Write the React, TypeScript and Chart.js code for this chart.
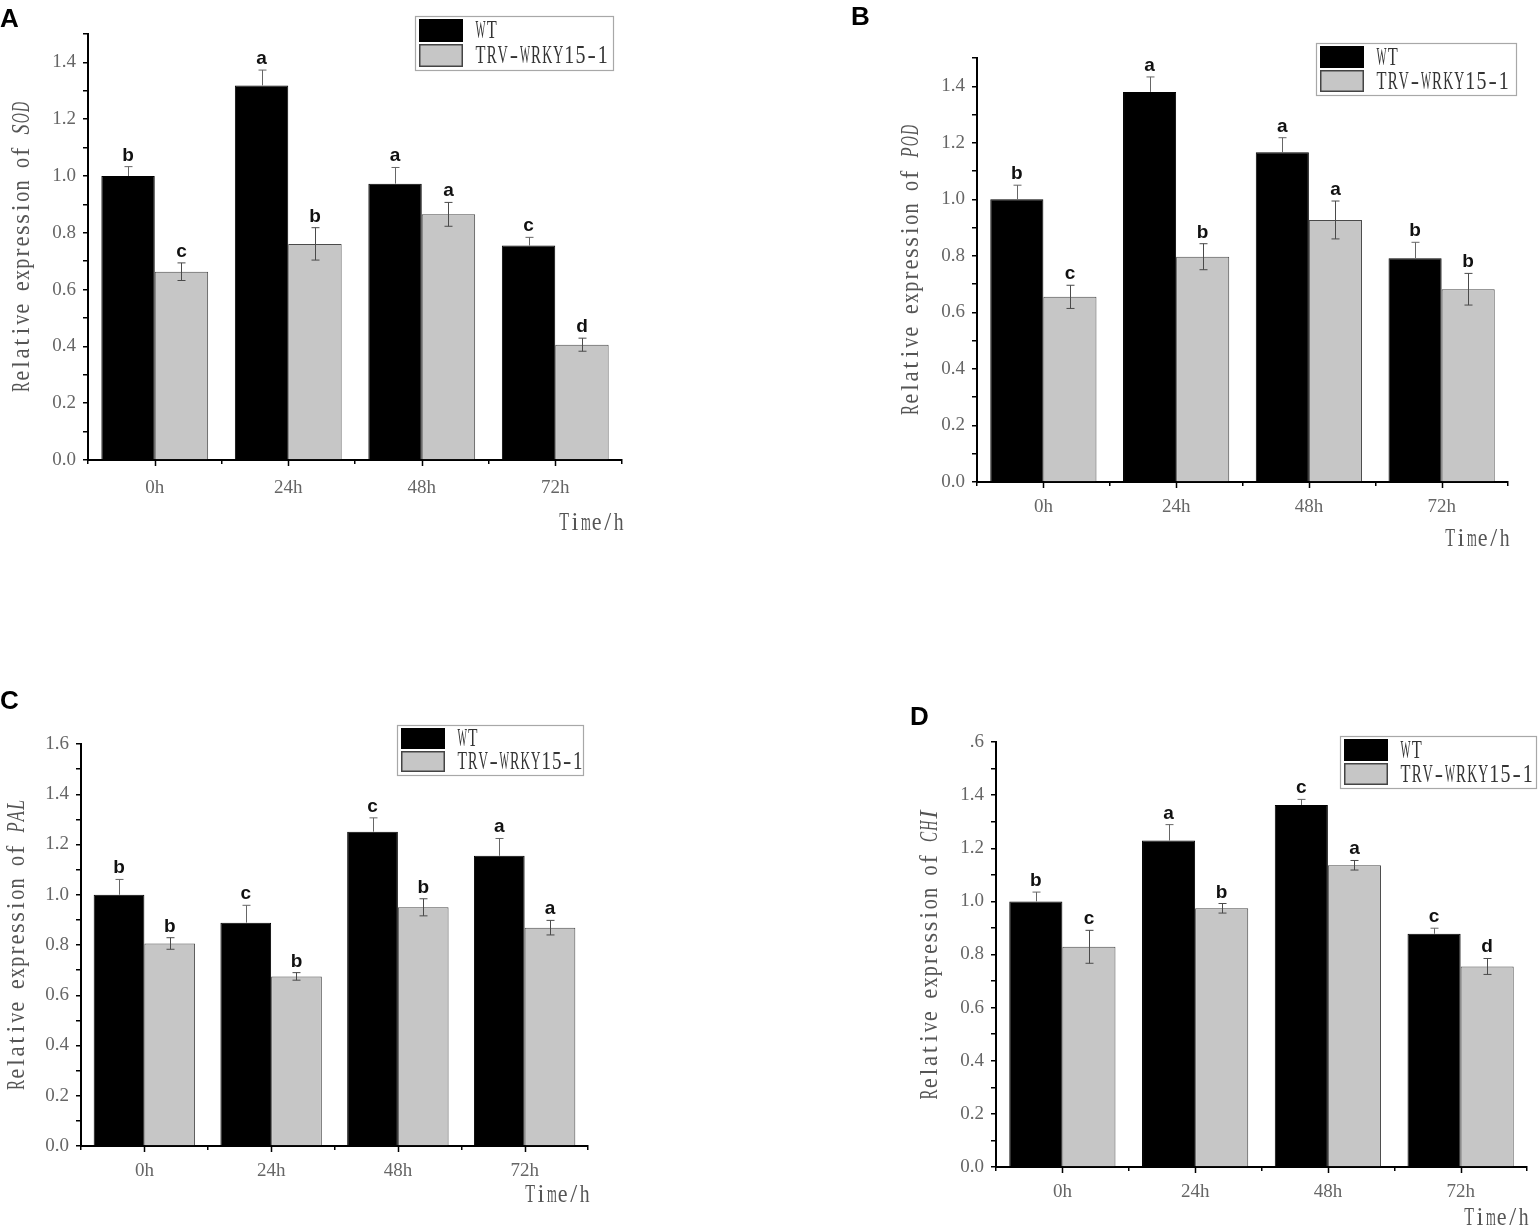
import React, { useEffect, useRef } from 'react';
import { Chart, registerables } from 'chart.js';

Chart.register(...registerables);

// ---------- data ----------
const categories = ['0h', '24h', '48h', '72h'];
const seriesNames = ['WT', 'TRV-WRKY15-1'];

// A: SOD
const sodWT = [1.0, 1.319, 0.973, 0.755];
const sodWTErr = [0.033, 0.054, 0.057, 0.029];
const sodTRV = [0.663, 0.761, 0.865, 0.406];
const sodTRVErr = [0.031, 0.057, 0.042, 0.023];
const sodWTLetters = ['b', 'a', 'a', 'c'];
const sodTRVLetters = ['c', 'b', 'a', 'd'];

// B: POD
const podWT = [1.0, 1.38, 1.167, 0.792];
const podWTErr = [0.05, 0.053, 0.051, 0.056];
const podTRV = [0.655, 0.797, 0.927, 0.682];
const podTRVErr = [0.041, 0.046, 0.067, 0.056];
const podWTLetters = ['b', 'a', 'a', 'b'];
const podTRVLetters = ['c', 'b', 'a', 'b'];

// C: PAL
const palWT = [1.0, 0.889, 1.251, 1.155];
const palWTErr = [0.061, 0.069, 0.055, 0.069];
const palTRV = [0.806, 0.675, 0.95, 0.869];
const palTRVErr = [0.023, 0.015, 0.034, 0.029];
const palWTLetters = ['b', 'c', 'c', 'a'];
const palTRVLetters = ['b', 'b', 'b', 'a'];

// D: CHI
const chiWT = [1.0, 1.229, 1.363, 0.878];
const chiWTErr = [0.035, 0.06, 0.021, 0.021];
const chiTRV = [0.829, 0.974, 1.136, 0.755];
const chiTRVErr = [0.062, 0.018, 0.018, 0.03];
const chiWTLetters = ['b', 'a', 'c', 'c'];
const chiTRVLetters = ['c', 'b', 'a', 'd'];

const yTitlePrefix = 'Relative expression of ';
const xTitle = 'Time/h';

// ---------- layout ----------
const PANEL_W = 770;
const PANEL_H = 615;
const Y_AXIS_W = 60;
const X_AXIS_H = 45;
const SERIF = '"Liberation Serif", "DejaVu Serif", serif';
const SANS = '"Liberation Sans", Arial, sans-serif';
const GRAY_FILL = '#c6c6c6';
const MONO_SIZE = 25;

type PanelCfg = {
  letter: string;
  gene: string;
  wt: number[];
  wtErr: number[];
  trv: number[];
  trvErr: number[];
  wtLetters: string[];
  trvLetters: string[];
  yMax: number;
  topLabel?: string;
  ox: number;
  oy: number;
  area: { l: number; r: number; t: number; b: number };
  titleX: number;
  legend: { x: number; y: number; w: number; h: number; adv: number };
  letterPos: { x: number; y: number };
  xTitleDy: number;
  xTickDy: number;
};

const panels: PanelCfg[] = [
  {
    letter: 'A', gene: 'SOD', wt: sodWT, wtErr: sodWTErr, trv: sodTRV, trvErr: sodTRVErr,
    wtLetters: sodWTLetters, trvLetters: sodTRVLetters, yMax: 1.5,
    ox: 0, oy: 0, area: { l: 88, r: 622, t: 34, b: 460 }, titleX: 22,
    legend: { x: 415, y: 16, w: 198, h: 54, adv: 11.1 }, letterPos: { x: 0, y: 7 },
    xTitleDy: 63, xTickDy: 27,
  },
  {
    letter: 'B', gene: 'POD', wt: podWT, wtErr: podWTErr, trv: podTRV, trvErr: podTRVErr,
    wtLetters: podWTLetters, trvLetters: podTRVLetters, yMax: 1.5,
    ox: 769, oy: 0, area: { l: 977, r: 1508, t: 58, b: 482 }, titleX: 911,
    legend: { x: 1316, y: 43, w: 200, h: 52, adv: 11.1 }, letterPos: { x: 851, y: 5 },
    xTitleDy: 57, xTickDy: 24,
  },
  {
    letter: 'C', gene: 'PAL', wt: palWT, wtErr: palWTErr, trv: palTRV, trvErr: palTRVErr,
    wtLetters: palWTLetters, trvLetters: palTRVLetters, yMax: 1.6,
    ox: 0, oy: 615, area: { l: 81, r: 588, t: 744, b: 1146 }, titleX: 17,
    legend: { x: 397, y: 725, w: 186, h: 50, adv: 10.5 }, letterPos: { x: 0, y: 689 },
    xTitleDy: 49, xTickDy: 24,
  },
  {
    letter: 'D', gene: 'CHI', wt: chiWT, wtErr: chiWTErr, trv: chiTRV, trvErr: chiTRVErr,
    wtLetters: chiWTLetters, trvLetters: chiTRVLetters, yMax: 1.6, topLabel: '.6',
    ox: 769, oy: 615, area: { l: 996, r: 1527, t: 742, b: 1167 }, titleX: 930,
    legend: { x: 1340, y: 736, w: 196, h: 52, adv: 11.1 }, letterPos: { x: 910, y: 705 },
    xTitleDy: 51, xTickDy: 24,
  },
];

type Part = { t: string; italic?: boolean };

// draws text with a fixed advance per character (half-width CJK-font look);
// glyphs wider than their cell are squeezed horizontally
function monoText(
  ctx: CanvasRenderingContext2D,
  parts: Part[],
  x: number,
  y: number,
  size: number,
  adv: number,
  align: 'left' | 'right' | 'center',
  color: string
) {
  const n = parts.reduce((s, p) => s + p.t.length, 0);
  const total = n * adv;
  let sx = x;
  if (align === 'right') sx = x - total;
  else if (align === 'center') sx = x - total / 2;
  ctx.save();
  ctx.fillStyle = color;
  ctx.textAlign = 'center';
  ctx.textBaseline = 'middle';
  let k = 0;
  const maxW = adv * 0.9;
  for (const p of parts) {
    ctx.font = `${p.italic ? 'italic ' : ''}${size}px ${SERIF}`;
    for (const ch of p.t) {
      if (ch !== ' ') {
        const cx = sx + (k + 0.5) * adv;
        const w = ctx.measureText(ch).width;
        if (w > maxW) {
          ctx.save();
          ctx.translate(cx, y);
          ctx.scale(maxW / w, 1);
          ctx.fillText(ch, 0, 0);
          ctx.restore();
        } else {
          ctx.fillText(ch, cx, y);
        }
      }
      k++;
    }
  }
  ctx.restore();
}

function ChartPanel({ p }: { p: PanelCfg }) {
  const ref = useRef<HTMLCanvasElement>(null);

  useEffect(() => {
    const canvas = ref.current;
    if (!canvas) return;
    const pad = {
      left: p.area.l - p.ox - Y_AXIS_W,
      right: p.ox + PANEL_W - p.area.r,
      top: p.area.t - p.oy,
      bottom: p.oy + PANEL_H - p.area.b - X_AXIS_H,
    };
    const errs = [p.wtErr, p.trvErr];
    const lets = [p.wtLetters, p.trvLetters];

    const decor = {
      id: 'decor',
      afterDatasetsDraw(chart: any) {
        const ctx: CanvasRenderingContext2D = chart.ctx;
        const ys = chart.scales.y;
        ctx.save();
        for (let d = 0; d < 2; d++) {
          const meta = chart.getDatasetMeta(d);
          const vals = chart.data.datasets[d].data as number[];
          meta.data.forEach((bar: any, i: number) => {
            const x = Math.round(bar.x) + 0.5;
            const top = ys.getPixelForValue(vals[i] + errs[d][i]);
            const mid = ys.getPixelForValue(vals[i]);
            const bot = ys.getPixelForValue(vals[i] - errs[d][i]);
            ctx.lineWidth = 1;
            ctx.beginPath();
            if (d === 0) {
              // the part inside the black bar is invisible
              ctx.strokeStyle = '#666';
              ctx.moveTo(x, top);
              ctx.lineTo(x, mid);
              ctx.moveTo(x - 4, top);
              ctx.lineTo(x + 4, top);
            } else {
              ctx.strokeStyle = '#4a4a4a';
              ctx.moveTo(x, top);
              ctx.lineTo(x, bot);
              ctx.moveTo(x - 4, top);
              ctx.lineTo(x + 4, top);
              ctx.moveTo(x - 4, bot);
              ctx.lineTo(x + 4, bot);
            }
            ctx.stroke();
            ctx.fillStyle = '#111';
            ctx.font = `bold 19px ${SANS}`;
            ctx.textAlign = 'center';
            ctx.textBaseline = 'alphabetic';
            ctx.fillText(lets[d][i], bar.x, top - 6);
          });
        }
        ctx.restore();
      },
      afterDraw(chart: any) {
        const ctx: CanvasRenderingContext2D = chart.ctx;
        const xs = chart.scales.x;
        const ca = chart.chartArea;
        ctx.save();
        // ticks at category centres
        ctx.strokeStyle = '#000';
        ctx.lineWidth = 1.5;
        ctx.beginPath();
        categories.forEach((_, i) => {
          const x = Math.round(xs.getPixelForValue(i)) + 0.5;
          ctx.moveTo(x, ca.bottom);
          ctx.lineTo(x, ca.bottom + 6);
        });
        ctx.stroke();

        // y title
        ctx.save();
        ctx.translate(p.titleX - p.ox, (ca.top + ca.bottom) / 2);
        ctx.rotate(-Math.PI / 2);
        monoText(ctx, [{ t: yTitlePrefix }, { t: p.gene, italic: true }], 0, 0, MONO_SIZE, 11.2, 'center', '#555');
        ctx.restore();

        // x title
        monoText(ctx, [{ t: xTitle }], ca.right + 2, ca.bottom + p.xTitleDy, MONO_SIZE, 10.9, 'right', '#555');

        // legend
        const lx = p.legend.x - p.ox;
        const ly = p.legend.y - p.oy;
        const lw = p.legend.w;
        const lh = p.legend.h;
        ctx.strokeStyle = '#a8a8a8';
        ctx.lineWidth = 1.2;
        ctx.strokeRect(lx + 0.5, ly + 0.5, lw, lh);
        const half = (lh - 8) / 2;
        ctx.fillStyle = '#000';
        ctx.fillRect(lx + 4, ly + 3, 44, half);
        ctx.fillStyle = GRAY_FILL;
        ctx.fillRect(lx + 4, ly + 5 + half, 44, half);
        ctx.strokeStyle = '#444';
        ctx.lineWidth = 1.5;
        ctx.strokeRect(lx + 4.75, ly + 5.75 + half, 42.5, half - 1.5);
        monoText(ctx, [{ t: seriesNames[0] }], lx + 60, ly + 4 + half / 2, MONO_SIZE, p.legend.adv, 'left', '#333');
        monoText(ctx, [{ t: seriesNames[1] }], lx + 60, ly + 6 + half * 1.5, MONO_SIZE, p.legend.adv, 'left', '#333');

        // panel letter
        ctx.fillStyle = '#000';
        ctx.font = `bold 26px ${SANS}`;
        ctx.textAlign = 'left';
        ctx.textBaseline = 'top';
        ctx.fillText(p.letter, p.letterPos.x - p.ox, p.letterPos.y - p.oy);
        ctx.restore();
      },
    };

    const chart = new Chart(canvas, {
      type: 'bar',
      data: {
        labels: categories,
        datasets: [
          {
            label: seriesNames[0],
            data: p.wt,
            backgroundColor: '#000',
            borderColor: '#000',
            borderWidth: 1,
          },
          {
            label: seriesNames[1],
            data: p.trv,
            backgroundColor: GRAY_FILL,
            borderColor: '#4a4a4a',
            borderWidth: 1,
          },
        ],
      },
      options: {
        responsive: false,
        animation: false,
        events: [],
        layout: { padding: pad },
        datasets: { bar: { categoryPercentage: 0.8, barPercentage: 1 } },
        plugins: { legend: { display: false }, tooltip: { enabled: false }, title: { display: false } },
        scales: {
          x: {
            grid: {
              display: true,
              drawOnChartArea: false,
              drawTicks: true,
              tickLength: 4,
              color: '#000',
              lineWidth: 1.5,
              offset: true,
            },
            border: { display: true, color: '#000', width: 2 },
            ticks: {
              font: { family: SERIF, size: 19 },
              color: '#666',
              padding: p.xTickDy - 14,
              maxRotation: 0,
            },
            afterFit: (s: any) => {
              s.height = X_AXIS_H;
            },
          },
          y: {
            min: 0,
            max: p.yMax,
            grid: {
              display: true,
              drawOnChartArea: false,
              drawTicks: true,
              tickLength: 5,
              color: '#000',
              lineWidth: 1.5,
            },
            border: { display: true, color: '#000', width: 2 },
            ticks: {
              stepSize: 0.1,
              autoSkip: false,
              padding: 7,
              font: { family: SERIF, size: 19 },
              color: '#666',
              callback: (v: any) => {
                const k = Math.round(Number(v) * 10);
                if (k % 2 !== 0) return '';
                if (p.topLabel && k === Math.round(p.yMax * 10)) return p.topLabel;
                return (k / 10).toFixed(1);
              },
            },
            afterFit: (s: any) => {
              s.width = Y_AXIS_W;
            },
          },
        },
      } as any,
      plugins: [decor],
    });
    return () => chart.destroy();
  }, [p]);

  return (
    <canvas
      ref={ref}
      width={PANEL_W}
      height={PANEL_H}
      style={{ position: 'absolute', left: p.ox, top: p.oy, width: PANEL_W, height: PANEL_H }}
    />
  );
}

export default function App() {
  return (
    <div
      style={{
        position: 'absolute',
        left: 0,
        top: 0,
        width: 1539,
        height: 1230,
        background: '#fff',
        overflow: 'hidden',
      }}
    >
      {panels.map((p) => (
        <ChartPanel key={p.letter} p={p} />
      ))}
    </div>
  );
}
